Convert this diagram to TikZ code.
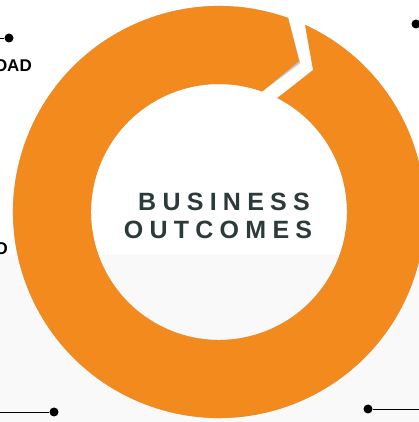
\documentclass[tikz,border=0pt]{standalone}
\usepackage{fontspec}
\setmainfont{Liberation Sans}
\usetikzlibrary{calc}
\definecolor{ringorange}{RGB}{242,138,30}
\definecolor{slate}{RGB}{45,58,58}
\definecolor{bggray}{RGB}{249,249,249}
\newcommand{\ringshape}{(c) ++(70.4:206) arc[start angle=70.4,end angle=425.3,radius=206] -- (313,352) -- ([shift={(62.9:128)}]c) arc[start angle=422.9,end angle=70.3,radius=128] -- (299,361) -- cycle}
\begin{document}
\begin{tikzpicture}[x=1pt,y=1pt,
  dotmark/.style={circle,fill=black,inner sep=0pt,minimum size=9pt},
  leader/.style={line width=0.8pt,black},
  sidelabel/.style={font=\fontsize{17}{20}\selectfont\bfseries,text=black,inner sep=0pt,anchor=base east},
  centerlabel/.style={font=\fontsize{25}{29}\selectfont\bfseries\addfontfeatures{LetterSpace=25},text=slate,inner sep=0pt,anchor=base}]
\useasboundingbox (0,0) rectangle (419,422);
\clip (0,0) rectangle (419,422);
\fill[bggray] (0,0) rectangle (419,167);
\coordinate (c) at (219,210);
\begin{scope}[shift={(1.5,-2.5)}]
  \fill[black,opacity=0.15] \ringshape;
\end{scope}
\begin{scope}[shift={(0.8,-1.2)}]
  \fill[black,opacity=0.12] \ringshape;
\end{scope}
\fill[ringorange] \ringshape;
% center text
\node[centerlabel] (b1) at (224,211) {BUSINESS};
\node[centerlabel] (b2) at (218,183) {OUTCOMES};
% side labels
\node[sidelabel] (t1) at (32,350) {OAD};
\node[sidelabel] (t2) at (8,167) {O};
% dots and leaders
\node[dotmark] (d1) at (9,384) {};
\coordinate (e1) at (0,384);
\draw[leader] (e1) -- (d1);
\node[dotmark] (d2) at (416,398) {};
\node[dotmark] (d3) at (54,10) {};
\coordinate (e3) at (0,10);
\draw[leader] (e3) -- (d3);
\node[dotmark] (d4) at (368,13) {};
\coordinate (e4) at (419,13);
\draw[leader] (d4) -- (e4);
\end{tikzpicture}
\end{document}
